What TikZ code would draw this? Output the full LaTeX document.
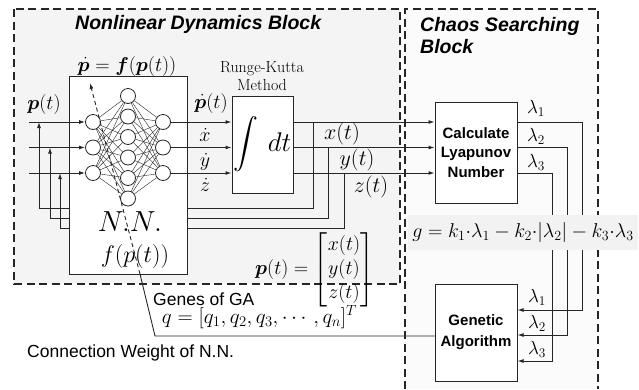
\RequirePackage{fix-cm}
\documentclass[tikz,border=0pt]{standalone}
\usepackage{fontspec}
\setsansfont{Liberation Sans}
\usepackage{amsmath}
\usepackage{bm}
\usetikzlibrary{arrows.meta}
\definecolor{ink}{gray}{0.15}
\begin{document}
\begin{tikzpicture}[x=1pt,y=-1pt,
  arr/.style={draw=ink,line width=1pt,-{Latex[length=6pt,width=4pt]}},
  blk/.style={draw=ink,line width=1pt,fill=white,inner sep=0pt},
  neuron/.style={circle,draw=ink,line width=0.8pt,fill=white,minimum size=15pt,inner sep=0pt},
  nnedge/.style={draw=ink,line width=0.4pt},
  bord/.style={draw=ink,line width=1.8pt,dash pattern=on 8pt off 4.5pt},
  mlbl/.style={inner sep=0pt,font=\fontsize{22}{26}\selectfont},
  dlbl/.style={inner sep=0pt,font=\fontsize{20}{24}\selectfont},
  lam/.style={inner sep=0pt,font=\fontsize{19}{22}\selectfont},
  boxtxt/.style={font=\sffamily\bfseries\fontsize{15}{19.5}\selectfont,align=center},
  sanslbl/.style={inner sep=0pt,font=\sffamily\fontsize{17.5}{20}\selectfont},
  ttl/.style={inner sep=0pt,font=\sffamily\bfseries\itshape\fontsize{19.5}{22}\selectfont,align=left}
]
\useasboundingbox (0,0) rectangle (639,389);
% block backgrounds
\fill[gray!9] (14,9) rectangle (400,284);
\fill[gray!3] (405,9) rectangle (598,389);
\draw[bord] (14,9) rectangle (400,284);
\draw[bord] (405,389) -- (405,9) -- (598,9) -- (598,389);
% titles
\node[ttl,anchor=base west] (t1) at (75,29) {Nonlinear Dynamics Block};
\node[ttl,anchor=base west] (t2) at (420,31) {Chaos Searching};
\node[ttl,anchor=base west] (t3) at (420,53) {Block};
% feedback loops x(t), y(t), z(t) -> NN inputs
\coordinate (fs1) at (313,122); \coordinate (fc1) at (39,208); \coordinate (fe1) at (39,122);
\coordinate (fs2) at (328,147.5); \coordinate (fc2) at (50,218); \coordinate (fe2) at (50,147.5);
\coordinate (fs3) at (344,173); \coordinate (fc3) at (60,228); \coordinate (fe3) at (60,173);
\foreach \n in {1,2,3} \draw[arr] (fs\n) |- (fc\n) -- (fe\n);
% NN box
\node[blk,minimum width=118pt,minimum height=198pt] (nn) at (128,175) {};
% neurons
\foreach \n/\y in {1/122,2/147.5,3/173} {
  \node[neuron] (i\n) at (93,\y) {};
  \node[neuron] (o\n) at (163,\y) {};
}
\foreach \n in {1,...,6} \node[neuron] (h\n) at (128,{96+20.5*(\n-1)}) {};
\foreach \a in {1,2,3} \foreach \b in {1,...,6} {
  \draw[nnedge] (i\a) -- (h\b);
  \draw[nnedge] (h\b) -- (o\a);
}
% input arrows
\foreach \n/\y in {1/122,2/147.5,3/173} {
  \coordinate (pin\n) at (29,\y);
  \draw[arr] (pin\n) -- (i\n);
}
% integrator
\node[blk,minimum width=61pt,minimum height=97pt,font=\fontsize{27}{30}\selectfont] (int) at (262.5,144.5) {$\displaystyle\int\,dt$};
% Lyapunov and GA boxes
\node[blk,boxtxt,minimum width=82pt,minimum height=101pt] (lya) at (476,152.5) {Calculate\\Lyapunov\\Number};
\node[blk,boxtxt,minimum width=82pt,minimum height=97pt,font=\sffamily\bfseries\fontsize{15}{21}\selectfont] (ga) at (476,332.5) {Genetic\\Algorithm};
% NN -> integrator -> Lyapunov
\foreach \n in {1,2,3} {
  \draw[arr] (o\n) -- (o\n -| int.west);
  \draw[arr] (int.east |- o\n) -- (lya.west |- o\n);
}
% Lyapunov -> GA
\coordinate (lc1) at (582,122); \coordinate (gy1) at (0,310);
\coordinate (lc2) at (567,147.5); \coordinate (gy2) at (0,335);
\coordinate (lc3) at (552,173); \coordinate (gy3) at (0,361);
\foreach \n in {1,2,3} \draw[arr] (lya.east |- o\n) -- (lc\n) |- (ga.east |- gy\n);
% g equation band
\node[fill=gray!10,minimum width=230pt,minimum height=35pt,inner sep=0pt,font=\fontsize{20}{24}\selectfont] (geq) at (523,232.5)
  {$g=k_1{\cdot}\lambda_1-k_2{\cdot}|\lambda_2|-k_3{\cdot}\lambda_3$};
% GA -> NN weights
\coordinate (k1) at (155,336);
\coordinate (k2) at (140,274);
\coordinate (k3) at (90,83);
\draw[draw=ink,line width=0.9pt] (ga.west |- k1) -- (k1) -- (k2);
\draw[draw=ink,line width=0.9pt,dash pattern=on 4pt off 3pt,-{Latex[length=6pt,width=4pt]}] (k2) -- (k3);
% labels
\node[dlbl] (lp) at (44,104) {$\bm p(t)$};
\node[dlbl] (lpd) at (127,66) {$\dot{\bm p}=\bm f(\bm p(t))$};
\node[dlbl] (lpdt) at (211,103) {$\dot{\bm p}(t)$};
\node[dlbl,anchor=base] (lxd) at (205,141) {$\dot x$};
\node[dlbl,anchor=base] (lyd) at (205,166) {$\dot y$};
\node[dlbl,anchor=base] (lzd) at (205,191) {$\dot z$};
\node[inner sep=0pt,font=\fontsize{16}{18}\selectfont,align=center] (rk) at (262,76) {Runge-Kutta\\Method};
\node[mlbl] (lx) at (342,134) {$x(t)$};
\node[mlbl] (ly) at (357,160) {$y(t)$};
\node[mlbl] (lz) at (371,187) {$z(t)$};
\node[inner sep=0pt,font=\fontsize{29}{32}\selectfont] (nnl) at (130,222) {$N.N.$};
\node[inner sep=0pt,font=\fontsize{24}{28}\selectfont] (fl) at (135,256) {$f(p(t))$};
\node[inner sep=0pt,font=\fontsize{20}{24}\selectfont,anchor=west] (peq) at (255,269.5)
  {$\bm p(t)=\begin{bmatrix}x(t)\\y(t)\\z(t)\end{bmatrix}$};
\node[sanslbl,anchor=base west] (genes) at (153,305) {Genes of GA};
\node[inner sep=0pt,font=\fontsize{21}{25}\selectfont,anchor=base] (qeq) at (259.5,323.5) {$q=[q_1,q_2,q_3,\cdots,q_n]^T$};
\node[sanslbl,anchor=base west] (cw) at (27,357) {Connection Weight of N.N.};
\node[lam] (la1) at (536,108) {$\lambda_1$};
\node[lam] (la2) at (536,136) {$\lambda_2$};
\node[lam] (la3) at (536,162) {$\lambda_3$};
\node[lam] (lb1) at (537,297) {$\lambda_1$};
\node[lam] (lb2) at (537,323) {$\lambda_2$};
\node[lam] (lb3) at (537,349) {$\lambda_3$};
\end{tikzpicture}
\end{document}
